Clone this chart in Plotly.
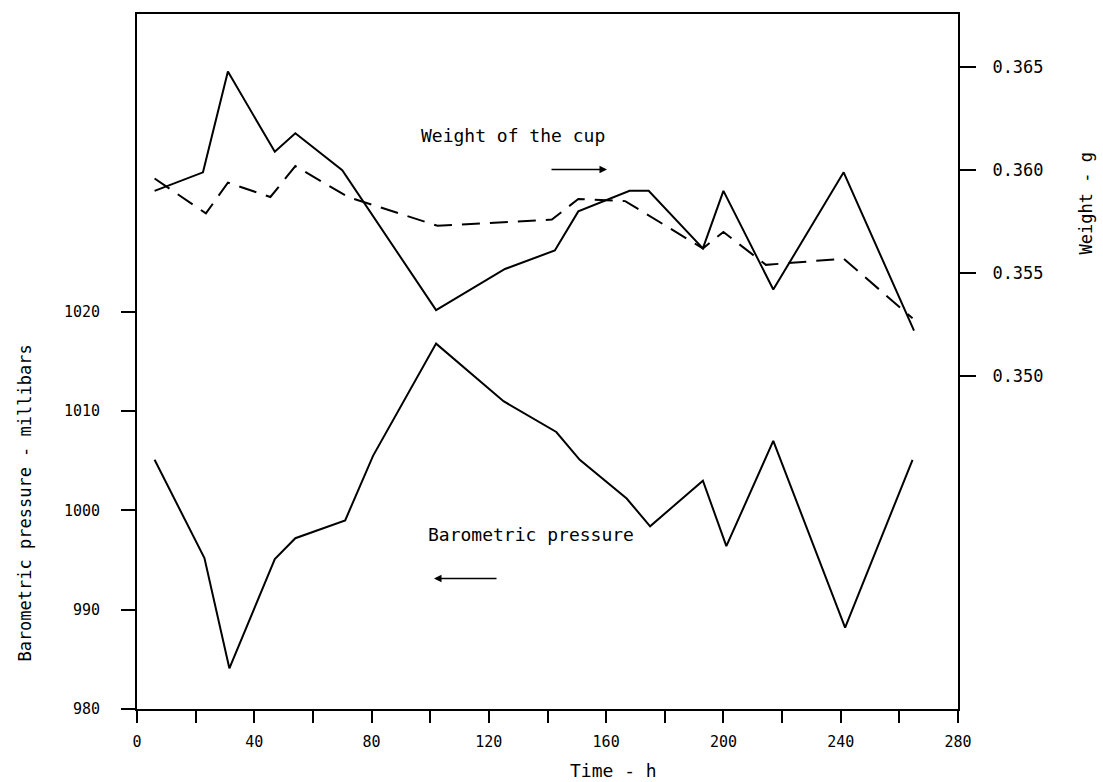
import plotly.graph_objects as go

# ---- data ----
time_pressure = [6, 23, 31.5, 47, 54, 71, 80.5, 102, 125, 143, 151, 167, 175, 193, 201, 217, 241.5, 264.5]
pressure_mb = [1005.1, 995.2, 984.1, 995.1, 997.2, 999.0, 1005.5, 1016.8, 1011.0, 1007.9,
               1005.1, 1001.2, 998.4, 1003.0, 996.4, 1007.0, 988.2, 1005.1]

time_weight_solid = [6, 22.5, 31, 47, 54, 70, 102, 125.5, 142.5, 150.5, 168, 174.5, 193, 200, 217, 241, 265]
weight_solid_g = [0.3590, 0.3599, 0.3648, 0.3609, 0.3618, 0.3600, 0.3532, 0.3552, 0.3561, 0.3580,
                  0.3590, 0.3590, 0.3562, 0.3590, 0.3542, 0.3599, 0.3522]

time_weight_dashed = [6, 23.5, 31, 45.5, 54, 72, 102.5, 141.5, 150.5, 166.5, 193, 200, 214.5, 241, 264.5]
weight_dashed_g = [0.3596, 0.3579, 0.3594, 0.3587, 0.3602, 0.3587, 0.3573, 0.3576, 0.3586, 0.3585,
                   0.3562, 0.3570, 0.3554, 0.3557, 0.3528]

x_tickvals = list(range(0, 281, 20))
x_ticktext = [str(v) if v % 40 == 0 else "" for v in x_tickvals]
left_tickvals = [980, 990, 1000, 1010, 1020]
right_tickvals = [0.350, 0.355, 0.360, 0.365]

FONT = "DejaVu Sans Mono"

fig = go.Figure()
fig.add_trace(go.Scatter(x=time_pressure, y=pressure_mb, mode="lines",
                         line=dict(color="black", width=2), yaxis="y", name="Barometric pressure",
                         showlegend=False))
fig.add_trace(go.Scatter(x=time_weight_solid, y=weight_solid_g, mode="lines",
                         line=dict(color="black", width=2), yaxis="y2", name="Weight of the cup",
                         showlegend=False))
fig.add_trace(go.Scatter(x=time_weight_dashed, y=weight_dashed_g, mode="lines",
                         line=dict(color="black", width=2, dash="18px,10px"), yaxis="y2",
                         name="Weight of the cup (dashed)", showlegend=False))

L, R, T, B = 137, 958, 12, 709
W, H = 1103, 782
pw, ph = R - L, B - T


def px(x):
    return (x - L) / pw


def py(y):
    return (B - y) / ph


def label(text, x, y, size, angle=0):
    return dict(text=text, xref="paper", yref="paper", x=px(x), y=py(y),
                xanchor="center", yanchor="middle", textangle=angle,
                showarrow=False, font=dict(family=FONT, size=size))


fig.update_layout(
    width=W, height=H,
    margin=dict(l=L, r=W - R, t=T, b=H - B, pad=0),
    paper_bgcolor="white", plot_bgcolor="white",
    font=dict(family=FONT, color="black", size=15),
    xaxis=dict(range=[0, 280], tickvals=x_tickvals, ticktext=x_ticktext,
               ticks="outside", ticklen=12, tickwidth=2, tickcolor="black",
               showline=True, linecolor="black", linewidth=2, mirror=True,
               showgrid=False, zeroline=False, ticklabelstandoff=6,
               tickfont=dict(family=FONT, size=15)),
    yaxis=dict(range=[980, 1050], tickvals=left_tickvals,
               ticks="outside", ticklen=14, tickwidth=2, tickcolor="black",
               showline=True, linecolor="black", linewidth=2,
               showgrid=False, zeroline=False, ticklabelstandoff=18,
               tickfont=dict(family=FONT, size=15)),
    yaxis2=dict(range=[0.3338, 0.3676], tickvals=right_tickvals, tickformat=".3f",
                overlaying="y", side="right",
                ticks="outside", ticklen=16, tickwidth=1.5, tickcolor="black",
                showline=True, linecolor="black", linewidth=2,
                showgrid=False, zeroline=False, ticklabelstandoff=13,
                tickfont=dict(family=FONT, size=17)),
    annotations=[
        label("Time - h", 613, 771, 18),
        label("Barometric pressure - millibars", 25, 503, 17, -90),
        label("Weight - g", 1086, 202, 17, -90),
        label("Weight of the cup", 513, 134, 18),
        label("Barometric pressure", 531, 534, 18),
        dict(text="", xref="paper", yref="paper", x=px(607), y=py(168),
             axref="pixel", ayref="pixel", ax=-57, ay=0,
             showarrow=True, arrowhead=2, arrowsize=1, arrowwidth=1.5, arrowcolor="black"),
        dict(text="", xref="paper", yref="paper", x=px(434), y=py(578),
             axref="pixel", ayref="pixel", ax=64, ay=0,
             showarrow=True, arrowhead=2, arrowsize=1, arrowwidth=1.5, arrowcolor="black"),
    ],
)

fig.write_html("out.html")
